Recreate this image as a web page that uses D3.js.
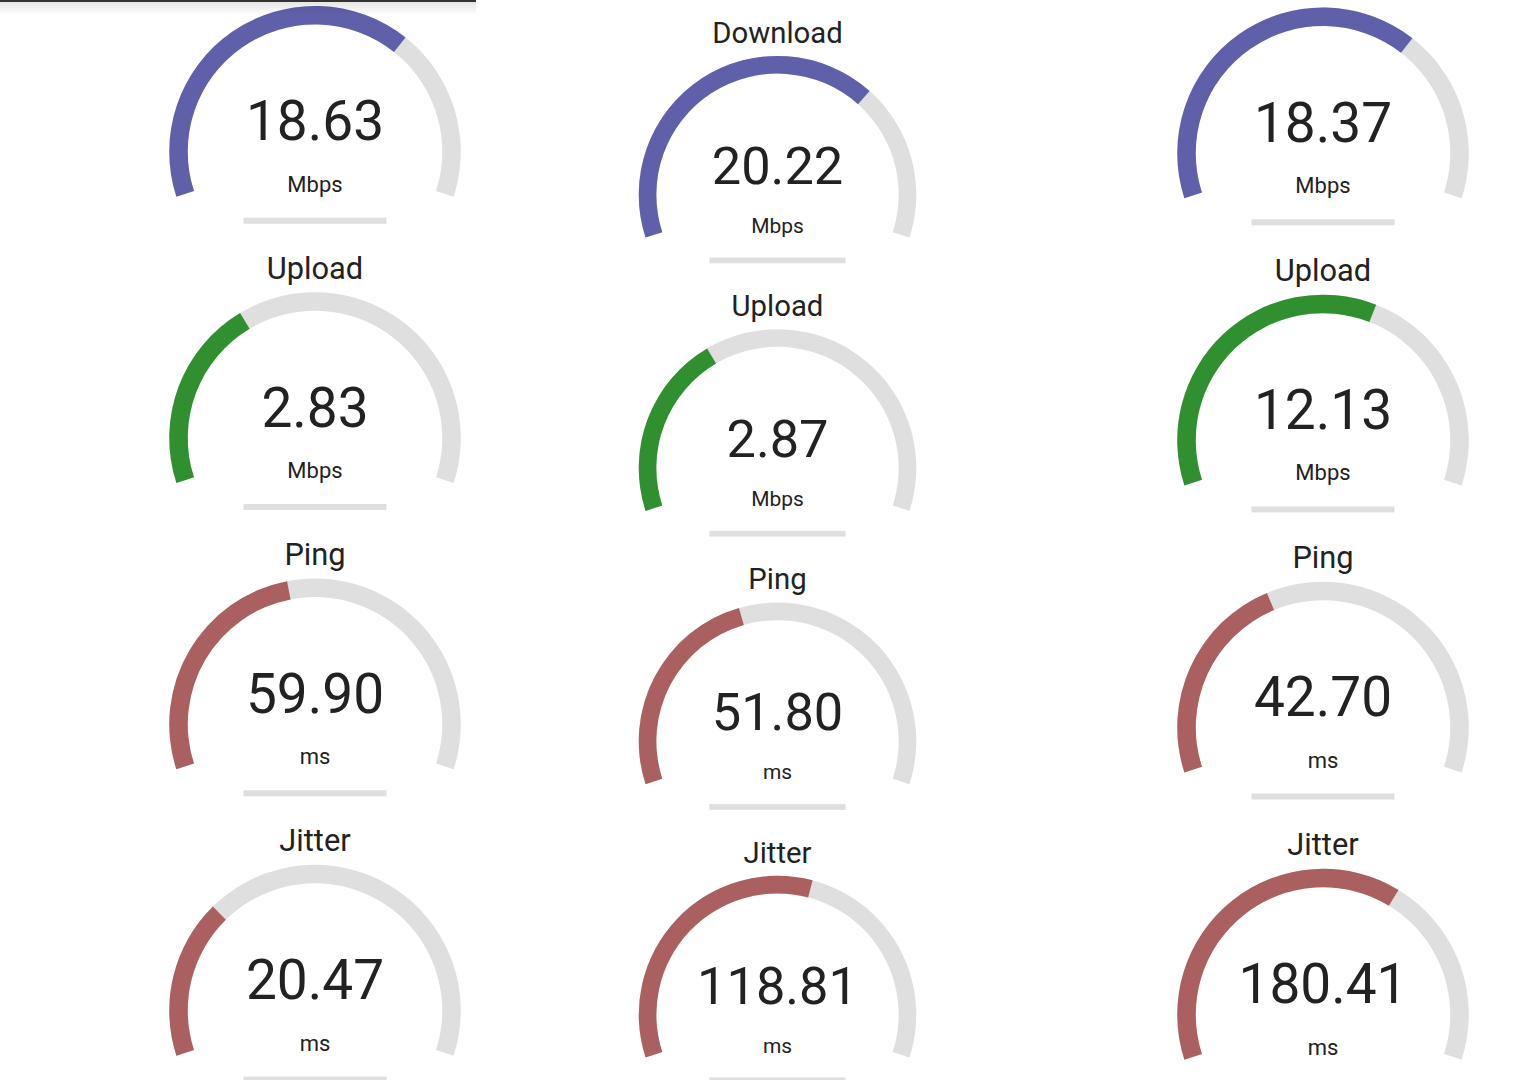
<!DOCTYPE html>
<html>
<head>
<meta charset="utf-8">
<script src="https://cdn.jsdelivr.net/npm/d3@7"></script>
<style>
  html, body { margin: 0; padding: 0; background: #fff; }
  svg { display: block; font-family: Roboto, 'Noto Sans', sans-serif; }
</style>
</head>
<body>
<svg id="chart" width="1520" height="1080"></svg>
<script>
// test names and units, one per gauge row
var tests = ['Download', 'Upload', 'Ping', 'Jitter']
var units = ['Mbps', 'Mbps', 'ms', 'ms']

// measured values, one array per run (column)
var runA = [18.63, 2.83, 59.90, 20.47]
var runB = [20.22, 2.87, 51.80, 118.81]
var runC = [18.37, 12.13, 42.70, 180.41]

var meterColors = ['#6060AA', '#309030', '#AA6060', '#AA6060']
var meterBk = '#DFDFDF'

;(function () {
  var width = 1520
  var height = 1080

  // each screenshot column has its own position and zoom
  var columns = [
    {data: runA, x: 315, y: 151.7, step: 286.3, k: 1},
    {data: runB, x: 777.5, y: 194.7, step: 273.3, k: 0.952},
    {data: runC, x: 1323, y: 153.3, step: 287.1, k: 1}
  ]

  // gauge geometry at k = 1
  var em = 22
  var rMid = 136.5
  var stroke = 18.5
  var titleY = -159.5

  var svg = d3.select('#chart')
    .attr('viewBox', `0 0 ${width} ${height}`)

  /*
      --------------------------------------
      Value -> amount (speedtest meter curve)
  */
  function toAmount (v, unit) {
    var base = unit === 'ms' ? 1.08 : 1.3
    return 1 - 1 / Math.pow(base, Math.sqrt(v))
  }

  // amount 0..1 sweeps 216 degrees, open at the bottom
  var angle = d3.scaleLinear()
    .domain([0, 1])
    .range([-0.6 * Math.PI, 0.6 * Math.PI])

  var rows = d3.range(tests.length)

  var cols = svg.selectAll('g.col')
    .data(columns)
    .join('g')
    .classed('col', true)

  var gauges = cols.selectAll('g.gauge')
    .data(c => rows.map(i => ({
      name: tests[i],
      unit: units[i],
      value: c.data[i],
      color: meterColors[i],
      k: c.k,
      cx: c.x,
      cy: c.y + i * c.step
    })))
    .join('g')
    .classed('gauge', true)
    .attr('transform', d => `translate(${d.cx},${d.cy}) scale(${d.k})`)

  var arc = d3.arc()
    .innerRadius(rMid - stroke / 2)
    .outerRadius(rMid + stroke / 2)

  /*
      --------------------------------------
      Meter background and value arc
  */
  gauges.append('path')
    .attr('fill', meterBk)
    .attr('d', arc({startAngle: angle(0), endAngle: angle(1)}))

  gauges.append('path')
    .attr('fill', d => d.color)
    .attr('d', d => arc({startAngle: angle(0), endAngle: angle(toAmount(d.value, d.unit))}))

  /*
      --------------------------------------
      Texts
  */
  // titles scrolled above the screen top are not drawn
  gauges.filter(d => d.cy + titleY * d.k > 10)
    .append('text')
    .attr('text-anchor', 'middle')
    .attr('y', titleY)
    .attr('font-size', 1.4 * em)
    .attr('fill', '#222')
    .text(d => d.name)

  gauges.append('text')
    .attr('text-anchor', 'middle')
    .attr('y', -11.5)
    .attr('font-size', 2.5 * em)
    .attr('fill', '#222')
    .text(d => d.value.toFixed(2))

  gauges.append('text')
    .attr('text-anchor', 'middle')
    .attr('y', 40)
    .attr('font-size', em)
    .attr('fill', '#222')
    .text(d => d.unit)

  // finished progress bar under each meter
  gauges.append('rect')
    .attr('x', -71.5)
    .attr('y', 66)
    .attr('width', 143)
    .attr('height', 6)
    .attr('fill', meterBk)

  /*
      --------------------------------------
      Status bar edge top left
  */
  var defs = svg.append('defs')
  var grad = defs.append('linearGradient')
    .attr('id', 'shade')
    .attr('x1', 0).attr('y1', 0).attr('x2', 0).attr('y2', 1)
  grad.append('stop').attr('offset', 0).attr('stop-color', '#000').attr('stop-opacity', 0.1)
  grad.append('stop').attr('offset', 1).attr('stop-color', '#000').attr('stop-opacity', 0)

  svg.append('rect')
    .attr('x', 0).attr('y', 2)
    .attr('width', 476).attr('height', 13)
    .attr('fill', 'url(#shade)')

  svg.append('rect')
    .attr('x', 0).attr('y', 0)
    .attr('width', 476).attr('height', 2)
    .attr('fill', '#333')
})()
</script>
</body>
</html>
